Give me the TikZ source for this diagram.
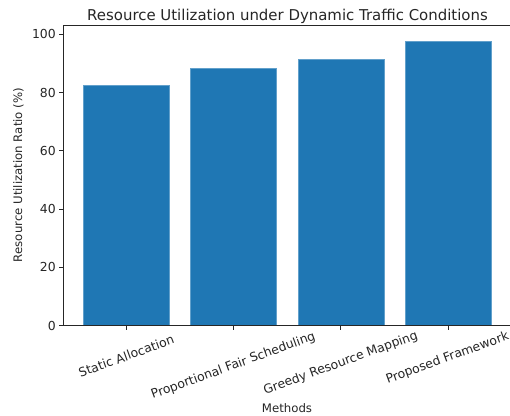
\documentclass[tikz,border=0pt]{standalone}
\usepackage{fontspec}
\setmainfont{DejaVu Sans}
\definecolor{barblue}{HTML}{1F77B4}
\definecolor{spine}{HTML}{262626}
\tikzset{
  bar/.style={fill=barblue, draw=barblue!70!white, line width=0.4pt},
  spineline/.style={draw=spine, line width=0.75pt},
  tickmark/.style={draw=spine, line width=0.75pt},
  ticklab/.style={inner sep=0pt, font=\fontsize{9.3}{11}\selectfont, text=spine},
  rotlab/.style={ticklab, anchor=center},
  axlab/.style={inner sep=0pt, font=\fontsize{8.8}{10}\selectfont, text=spine},
  titlelab/.style={inner sep=0pt, font=\fontsize{11.2}{13}\selectfont, text=spine}
}
\begin{document}
\begin{tikzpicture}[x=0.75pt, y=-0.75pt]
\useasboundingbox (0,0) rectangle (510,416);
% axes corners
\coordinate (tl) at (63.5,26);
\coordinate (bl) at (63.5,325.7);
\coordinate (tr) at (512,26);
\coordinate (br) at (512,325.7);
% bars (value * 2.915 px)
\foreach \c/\v/\n in {126.3/82.4/a, 233.6/88.4/b, 340.9/91.3/c, 448.2/97.7/d}{
  \path[bar] (\c-42.9,325.7) rectangle (\c+42.9,{325.7-\v*2.915});
  \coordinate (xt\n) at (\c,325.7);
  \draw[tickmark] (xt\n) -- ++(0,4.6);
}
% spines
\draw[spineline] (tr) -- (tl) -- (bl) -- (br);
% y ticks
\foreach \v in {0,20,40,60,80,100}{
  \coordinate (yt\v) at (63.5,{325.7-\v*2.915});
  \draw[tickmark] (yt\v) -- ++(-4.6,0);
  \node[ticklab, anchor=east] (yl\v) at ([xshift=-7.5*0.75pt]yt\v) {\v};
}
% x tick labels
\node[rotlab] (la) at (126.3,356) {\rotatebox{20}{Static Allocation}};
\node[rotlab] (lb) at (233.3,366) {\rotatebox{20}{Proportional Fair Scheduling}};
\node[rotlab] (lc) at (340.8,363.3) {\rotatebox{20}{Greedy Resource Mapping}};
\node[rotlab] (ld) at (447.5,358.3) {\rotatebox{20}{Proposed Framework}};
% axis labels
\node[axlab] (xlab) at (287,408) {Methods};
\node[axlab, rotate=90] (ylab) at (18.5,175) {Resource Utilization Ratio (\%)};
% title
\node[titlelab, anchor=base] (title) at (287.5,20.3) {Resource Utilization under Dynamic Traffic Conditions};
\end{tikzpicture}
\end{document}
